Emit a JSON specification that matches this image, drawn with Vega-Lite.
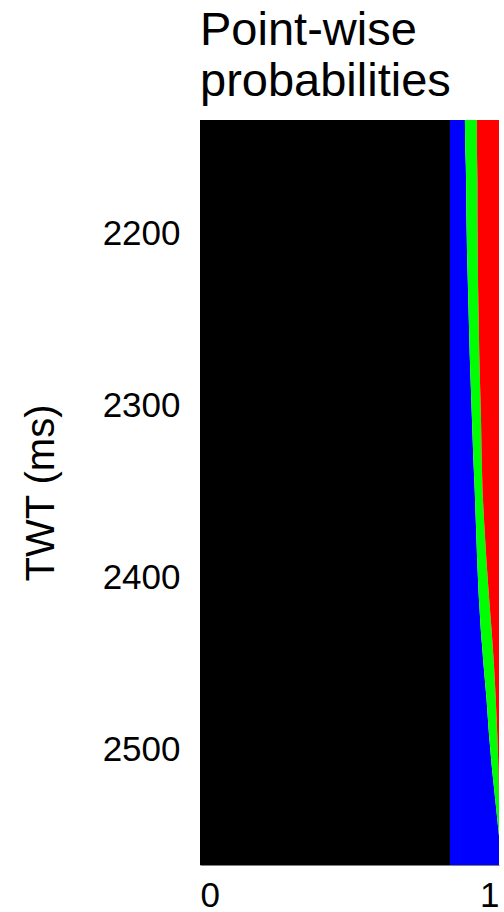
{
"$schema": "https://vega.github.io/schema/vega-lite/v6.json",
"width": 299,
"height": 745,
"autosize": {"type": "none"},
"padding": {"left": 200, "top": 120, "right": 5, "bottom": 47},
"config": {"view": {"stroke": null}, "font": "Liberation Sans"},
"title": {"text": ["Point-wise", "probabilities"], "anchor": "start", "frame": "group", "fontSize": 47, "fontWeight": "normal", "lineHeight": 51, "offset": 14, "color": "black"},
"data": {"values": [
{"t": 2134, "c1": 0.836, "c2": 0.050, "c3": 0.040, "c4": 0.074},
{"t": 2150, "c1": 0.836, "c2": 0.051, "c3": 0.039, "c4": 0.074},
{"t": 2160, "c1": 0.836, "c2": 0.053, "c3": 0.038, "c4": 0.073},
{"t": 2170, "c1": 0.836, "c2": 0.054, "c3": 0.038, "c4": 0.072},
{"t": 2190, "c1": 0.836, "c2": 0.055, "c3": 0.037, "c4": 0.072},
{"t": 2210, "c1": 0.836, "c2": 0.057, "c3": 0.036, "c4": 0.071},
{"t": 2230, "c1": 0.836, "c2": 0.060, "c3": 0.034, "c4": 0.070},
{"t": 2250, "c1": 0.836, "c2": 0.063, "c3": 0.033, "c4": 0.068},
{"t": 2270, "c1": 0.836, "c2": 0.066, "c3": 0.032, "c4": 0.066},
{"t": 2290, "c1": 0.836, "c2": 0.070, "c3": 0.031, "c4": 0.063},
{"t": 2310, "c1": 0.836, "c2": 0.074, "c3": 0.030, "c4": 0.060},
{"t": 2330, "c1": 0.836, "c2": 0.078, "c3": 0.028, "c4": 0.058},
{"t": 2350, "c1": 0.836, "c2": 0.083, "c3": 0.026, "c4": 0.055},
{"t": 2370, "c1": 0.836, "c2": 0.087, "c3": 0.028, "c4": 0.049},
{"t": 2390, "c1": 0.836, "c2": 0.091, "c3": 0.031, "c4": 0.042},
{"t": 2410, "c1": 0.836, "c2": 0.096, "c3": 0.034, "c4": 0.034},
{"t": 2430, "c1": 0.836, "c2": 0.103, "c3": 0.036, "c4": 0.025},
{"t": 2450, "c1": 0.836, "c2": 0.112, "c3": 0.035, "c4": 0.017},
{"t": 2470, "c1": 0.836, "c2": 0.122, "c3": 0.031, "c4": 0.011},
{"t": 2490, "c1": 0.836, "c2": 0.130, "c3": 0.028, "c4": 0.006},
{"t": 2510, "c1": 0.836, "c2": 0.140, "c3": 0.022, "c4": 0.002},
{"t": 2530, "c1": 0.836, "c2": 0.152, "c3": 0.012, "c4": 0.0},
{"t": 2550, "c1": 0.836, "c2": 0.164, "c3": 0.0, "c4": 0.0},
{"t": 2567, "c1": 0.836, "c2": 0.164, "c3": 0.0, "c4": 0.0}
]},
"transform": [{"fold": ["c1", "c2", "c3", "c4"], "as": ["cls", "p"]}],
"mark": {"type": "area", "orient": "horizontal", "clip": true},
"encoding": {
"y": {"field": "t", "type": "quantitative", "scale": {"domain": [2134, 2567], "reverse": true, "nice": false, "zero": false},
"axis": {"values": [2200, 2300, 2400, 2500], "format": "d", "title": "TWT (ms)", "tickSize": 0, "labelPadding": 20, "labelFontSize": 35, "labelColor": "black", "titleFontSize": 40, "titleFontWeight": "normal", "titleColor": "black", "titlePadding": 41, "domain": false, "grid": false}},
"x": {"field": "p", "type": "quantitative", "stack": "zero", "scale": {"domain": [0, 1], "nice": false},
"axis": {"values": [0, 1], "title": null, "labelFlush": true, "tickSize": 0, "labelPadding": 13, "labelFontSize": 35, "labelColor": "black", "domainColor": "#808080", "grid": false, "format": "d"}},
"color": {"field": "cls", "type": "nominal", "scale": {"domain": ["c1", "c2", "c3", "c4"], "range": ["#000000", "#0000ff", "#00ff00", "#ff0000"]}, "legend": null},
"order": {"field": "cls"}
}
}
